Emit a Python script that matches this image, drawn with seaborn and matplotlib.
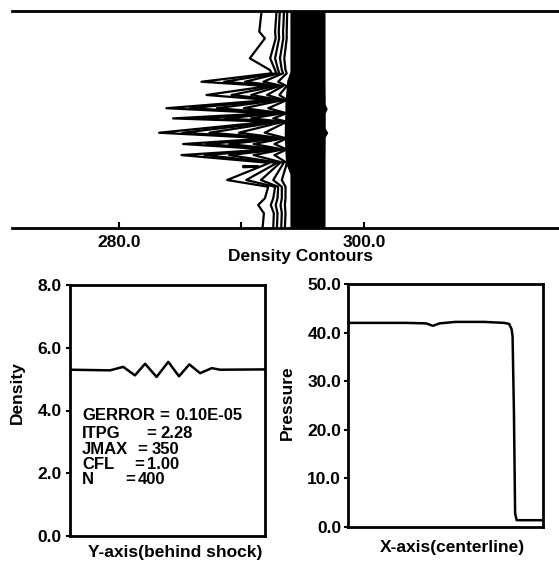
import matplotlib
matplotlib.use("Agg")
import matplotlib.pyplot as plt
import numpy as np
import pandas as pd
import seaborn as sns

# ---------------- data ----------------
# Top panel: density contour lines (x = axial station, y = normalised row position)
contour_y = [1.000, 0.959, 0.905, 0.874, 0.782, 0.728, 0.713, 0.674, 0.654, 0.613,
             0.590, 0.552, 0.529, 0.505, 0.490, 0.439, 0.413, 0.387, 0.362, 0.336,
             0.300, 0.221, 0.190, 0.137, 0.106, 0.068, 0.000]
level_a_x = [291.65, 291.57, 291.46, 291.92, 290.69, 292.33, 292.47, 286.75, 292.19, 287.16,
             292.30, 283.89, 292.20, 284.43, 292.30, 283.29, 292.20, 285.25, 292.20, 285.12,
             292.30, 288.84, 292.19, 291.92, 291.37, 291.84, 291.73]
level_b_x = [292.87, 292.82, 292.75, 292.80, 292.35, 292.75, 292.85, 288.60, 292.80, 289.20,
             292.90, 285.80, 292.85, 286.40, 292.90, 285.20, 292.85, 287.10, 292.85, 287.00,
             292.90, 290.40, 292.75, 292.60, 292.40, 292.65, 292.60]
level_c_x = [293.14, 293.10, 293.05, 293.08, 292.75, 293.00, 293.10, 290.30, 293.10, 290.80,
             293.15, 288.00, 293.10, 288.60, 293.15, 287.40, 293.10, 289.00, 293.10, 289.00,
             293.15, 291.60, 293.00, 292.95, 292.80, 292.95, 292.90]
level_d_x = [293.47, 293.45, 293.40, 293.42, 293.15, 293.30, 293.40, 291.80, 293.40, 292.10,
             293.45, 290.20, 293.40, 290.80, 293.45, 289.80, 293.40, 291.00, 293.40, 291.00,
             293.45, 292.60, 293.30, 293.30, 293.20, 293.30, 293.25]
level_e_x = [293.74, 293.72, 293.70, 293.70, 293.50, 293.60, 293.70, 293.00, 293.70, 293.10,
             293.72, 292.20, 293.70, 292.60, 293.72, 291.90, 293.70, 292.70, 293.70, 292.70,
             293.72, 293.30, 293.60, 293.60, 293.55, 293.60, 293.55]
dash_x = [290.15, 291.40, 290.15]
dash_y = [0.286, 0.283, 0.280]

# Packed contours inside the shock (drawn as a filled band)
band_y = [0.00, 0.25, 0.30, 0.42, 0.44, 0.46, 0.53, 0.55, 0.57, 0.68, 0.72, 1.00]
band_left = [293.96, 293.96, 293.60, 293.50, 293.50, 293.50, 293.55, 293.55, 293.55, 293.70, 293.96, 293.96]
band_right = [296.82, 296.82, 296.82, 296.84, 297.05, 296.84, 296.84, 297.00, 296.84, 296.82, 296.82, 296.82]

top_ticks = [280, 290, 300]
top_ticklabels = ["280.0", "", "300.0"]

# Bottom-left: density behind the shock
den_x = [0.00, 0.205, 0.273, 0.333, 0.385, 0.444, 0.504, 0.559, 0.612, 0.667, 0.727, 0.769, 1.00]
den_y = [5.30, 5.28, 5.39, 5.12, 5.49, 5.07, 5.55, 5.09, 5.47, 5.19, 5.35, 5.30, 5.31]
den_ticks = [0, 2, 4, 6, 8]
den_ticklabels = ["0.0", "2.0", "4.0", "6.0", "8.0"]

# Bottom-right: pressure along the centerline
pre_x = [0.00, 0.15, 0.30, 0.40, 0.435, 0.47, 0.55, 0.70, 0.80, 0.826, 0.839, 0.844,
         0.851, 0.857, 0.865, 0.93, 1.00]
pre_y = [42.0, 42.0, 42.0, 41.9, 41.4, 41.9, 42.2, 42.2, 42.0, 41.8, 40.7, 39.2,
         23.4, 2.8, 1.4, 1.4, 1.4]
pre_ticks = [0, 10, 20, 30, 40, 50]
pre_ticklabels = ["0.0", "10.0", "20.0", "30.0", "40.0", "50.0"]

param_names = ["GERROR", "ITPG", "JMAX", "CFL", "N"]
param_values = ["0.10E-05", "2.28", "350", "1.00", "400"]

# ---------------- style ----------------
sns.set_theme(style="white")
plt.rcParams['font.family'] = ['Liberation Sans', 'DejaVu Sans']
plt.rcParams['font.weight'] = 'bold'
for key in ["text.color", "axes.labelcolor", "xtick.color", "ytick.color", "axes.edgecolor"]:
    plt.rcParams[key] = "black"
FS = 12.5

W, H = 559, 563
fig = plt.figure(figsize=(W / 100, H / 100), dpi=100)
fig.patch.set_facecolor("white")

def ax_rect(l, t, r, b):
    return [l / W, 1 - b / H, (r - l) / W, (b - t) / H]

ax_top = fig.add_axes(ax_rect(12, 11, 559, 228))
ax_den = fig.add_axes(ax_rect(70, 285, 265, 536))
ax_pre = fig.add_axes(ax_rect(348, 284, 543, 527))

# ---------------- top: contours ----------------
levels = {"a": level_a_x, "b": level_b_x, "c": level_c_x, "d": level_d_x, "e": level_e_x}
rows = []
for name, xs in levels.items():
    for i, (xv, yv) in enumerate(zip(xs, contour_y)):
        rows.append({"level": name, "order": i, "x": xv, "y": yv})
for i, (xv, yv) in enumerate(zip(dash_x, dash_y)):
    rows.append({"level": "dash", "order": i, "x": xv, "y": yv})
cdf = pd.DataFrame(rows)
sns.lineplot(data=cdf, x="x", y="y", units="level", estimator=None, sort=False,
             color="black", lw=1.6, ax=ax_top, legend=False)
ax_top.fill_betweenx(band_y, band_left, band_right, color="black", lw=0)

ax_top.set_xlim(271.3, 315.9)
ax_top.set_ylim(0, 1)
for s in ["left", "right"]:
    ax_top.spines[s].set_visible(False)
for s in ["top", "bottom"]:
    ax_top.spines[s].set_color("black")
    ax_top.spines[s].set_linewidth(2.0)
ax_top.set_yticks([])
ax_top.set_xticks(top_ticks)
ax_top.set_xticklabels(top_ticklabels, fontsize=FS, fontweight="bold", color="black")
ax_top.tick_params(axis="x", direction="in", length=4, width=1.5, color="black",
                   labelcolor="black", pad=5, bottom=True, top=False)
ax_top.set_xlabel("Density Contours", fontsize=FS, fontweight="bold", color="black")
ax_top.xaxis.set_label_coords((301 - 12) / 547, -(249 - 228) / 217)
ax_top.set_ylabel("")

# ---------------- bottom-left: density ----------------
sns.lineplot(x=den_x, y=den_y, color="black", lw=1.8, ax=ax_den, sort=False, estimator=None)
ax_den.set_xlim(0, 1)
ax_den.set_ylim(0, 8)
ax_den.set_xticks([])
ax_den.set_yticks(den_ticks)
ax_den.set_yticklabels(den_ticklabels, fontsize=FS, fontweight="bold", color="black")
ax_den.tick_params(axis="y", direction="out", length=3, width=1.5, color="black",
                   labelcolor="black", pad=3, left=True)
ax_den.set_ylabel("Density", fontsize=FS, fontweight="bold", color="black")
ax_den.yaxis.set_label_coords((25 - 70) / 195, 0.57)
ax_den.set_xlabel("Y-axis(behind shock)", fontsize=FS, fontweight="bold", color="black")
ax_den.xaxis.set_label_coords(0.541, -0.036)

eq_x = [0.485, 0.415, 0.369, 0.354, 0.308]
val_x = [0.540, 0.462, 0.420, 0.395, 0.349]
line_y = [0.482, 0.410, 0.343, 0.283, 0.227]
for name, val, ex, vx, ly in zip(param_names, param_values, eq_x, val_x, line_y):
    ax_den.text(0.062, ly, name, transform=ax_den.transAxes, ha="left", va="center",
                fontsize=12, fontweight="bold", color="black")
    ax_den.text(ex, ly, "=", transform=ax_den.transAxes, ha="center", va="center",
                fontsize=12, fontweight="bold", color="black")
    ax_den.text(vx, ly, val, transform=ax_den.transAxes, ha="left", va="center",
                fontsize=12, fontweight="bold", color="black")

# ---------------- bottom-right: pressure ----------------
sns.lineplot(x=pre_x, y=pre_y, color="black", lw=1.8, ax=ax_pre, sort=False, estimator=None)
ax_pre.set_xlim(0, 1)
ax_pre.set_ylim(0, 50)
ax_pre.set_xticks([])
ax_pre.set_yticks(pre_ticks)
ax_pre.set_yticklabels(pre_ticklabels, fontsize=FS, fontweight="bold", color="black")
ax_pre.tick_params(axis="y", direction="out", length=3, width=1.5, color="black",
                   labelcolor="black", pad=2, left=True)
ax_pre.set_ylabel("Pressure", fontsize=FS, fontweight="bold", color="black")
ax_pre.yaxis.set_label_coords((295 - 348) / 195, 0.51)
ax_pre.set_xlabel("X-axis(centerline)", fontsize=FS, fontweight="bold", color="black")
ax_pre.xaxis.set_label_coords(0.536, -0.053)

for ax in (ax_den, ax_pre):
    ax.set_facecolor("white")
    for s in ax.spines.values():
        s.set_visible(True)
        s.set_color("black")
        s.set_linewidth(2.0)
ax_top.set_facecolor("white")

fig.savefig("out.png", dpi=100, facecolor="white")
